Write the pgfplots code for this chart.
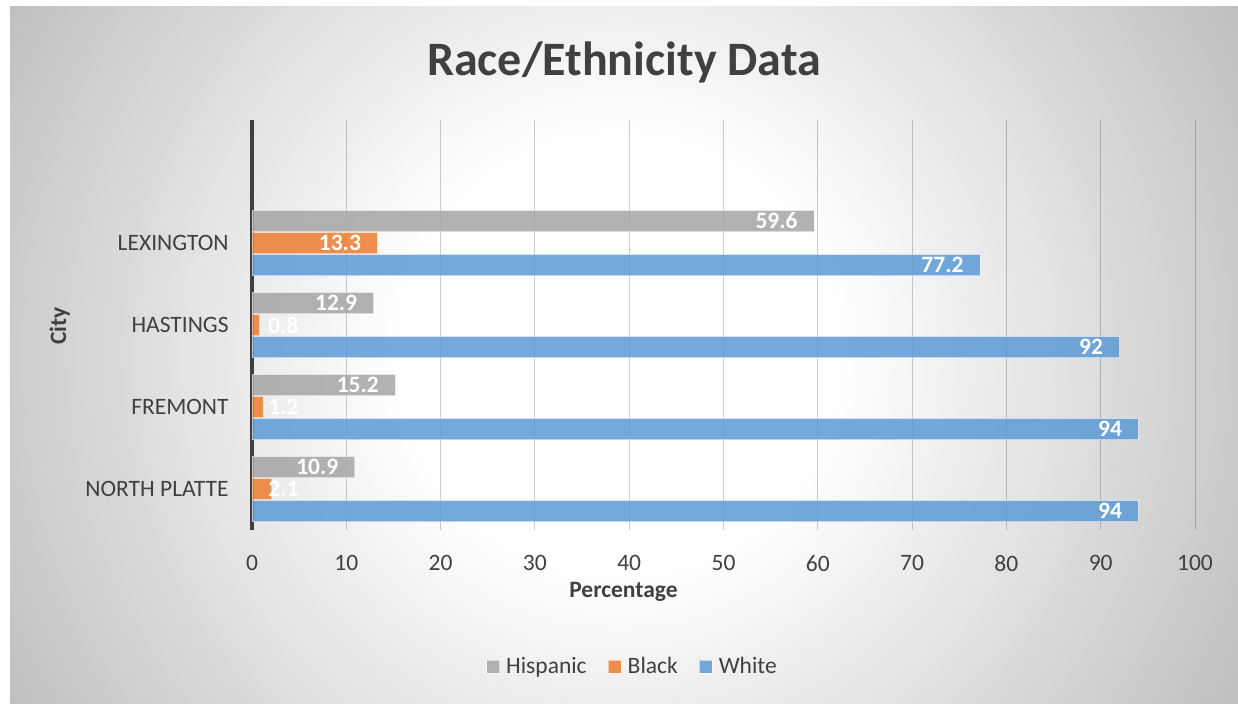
\documentclass[border=0pt]{standalone}
\usepackage{pgfplots}
\pgfplotsset{compat=1.18}
\usepackage{fontspec}
\setmainfont{Carlito}
\definecolor{txt}{HTML}{404040}
\definecolor{cHisp}{HTML}{A5A5A5}
\definecolor{cBlack}{HTML}{ED7D31}
\definecolor{cWhite}{HTML}{5B9BD5}
\newcommand\fs{\fontsize{11.75}{14}\selectfont}
\begin{document}
\begin{tikzpicture}[x=1pt,y=1pt]
\path[use as bounding box] (0,0) rectangle (619,351.5);
\fill[white] (0,0) rectangle (619,351.5);
\begin{scope}
\clip (5,0) rectangle (619,348);
\fill[white] (5,0) rectangle (619,348);
\foreach \r in {360,356,...,112} {
  \pgfmathsetmacro\gv{min(1,(255-(\r-111.5)/241.5*63)/255)}
  \definecolor{tmpc}{gray}{\gv}
  \fill[tmpc] (309.5,174) circle (\r);
}
\end{scope}
\node[anchor=base, font=\bfseries\fontsize{24}{28}\selectfont, text=txt] at (312,313.5) {Race/Ethnicity Data};
\node[anchor=base, font=\bfseries\fs, text=txt] at (311.75,53) {Percentage};
\node[rotate=90, anchor=base, font=\bfseries\fs, text=txt] at (33,188.5) {City};
\begin{axis}[
  at={(126pt,86.5pt)}, anchor=south west,
  scale only axis, width=471.5pt, height=205pt,
  xbar, bar width=10.75pt,
  xmin=0, xmax=100, ymin=-0.5, ymax=4.5,
  enlargelimits=false, clip=false,
  xtick={0,10,...,100},
  ytick={0,1,2,3},
  yticklabels={NORTH PLATTE, FREMONT, HASTINGS, LEXINGTON},
  axis y line*=left, axis x line*=bottom,
  x axis line style={draw=none},
  y axis line style={-, draw=txt, line width=2pt},
  major tick length=0pt,
  tick style={draw=none},
  xmajorgrids, ymajorgrids=false,
  major grid style={draw=black, draw opacity=0.2, line width=0.5pt},
  /pgf/number format/assume math mode=true,
  ticklabel style={font=\fs, text=txt},
  xticklabel style={inner sep=0pt, yshift=-12.5pt, anchor=north},
  yticklabel style={inner sep=0pt, xshift=-11.5pt, anchor=east},
  nodes near coords style={font=\bfseries\fs, text=white, text opacity=1, inner sep=0pt, anchor=east, xshift=-8pt},
  legend columns=3,
  legend style={at={(0.4024,-0.334)}, anchor=center, draw=none, fill=none, inner sep=0pt,
    font=\fs, text=txt,
    nodes={inner sep=0pt, text height=0.644em, text depth=0pt},
    /tikz/every odd column/.append style={column sep=3pt},
    /tikz/every even column/.append style={column sep=10.5pt}},
  legend image code/.code={\draw[#1] (0pt,-3.25pt) rectangle (6.5pt,3.25pt);},
]
\addplot[fill=cHisp, fill opacity=0.85, draw=white, draw opacity=0.55, line width=0.5pt, bar shift=11pt,
  nodes near coords] coordinates {(10.9,0) (15.2,1) (12.9,2) (59.6,3)};
\addlegendentry{Hispanic}
\addplot[fill=cBlack, fill opacity=0.85, draw=white, draw opacity=0.55, line width=0.5pt, bar shift=0pt,
  point meta=explicit symbolic, nodes near coords] coordinates {(2.1,0) [] (1.2,1) [] (0.8,2) [] (13.3,3) [13.3]};
\addlegendentry{Black}
\addplot[fill=cWhite, fill opacity=0.85, draw=white, draw opacity=0.55, line width=0.5pt, bar shift=-11pt,
  nodes near coords] coordinates {(94,0) (94,1) (92,2) (77.2,3)};
\addlegendentry{White}
\addplot[forget plot, draw=none, fill=none, bar shift=0pt, point meta=explicit symbolic,
  nodes near coords, nodes near coords style={anchor=west, xshift=16pt}]
  coordinates {(0,0) [2.1] (0,1) [1.2] (0,2) [0.8]};
\end{axis}
\end{tikzpicture}
\end{document}
